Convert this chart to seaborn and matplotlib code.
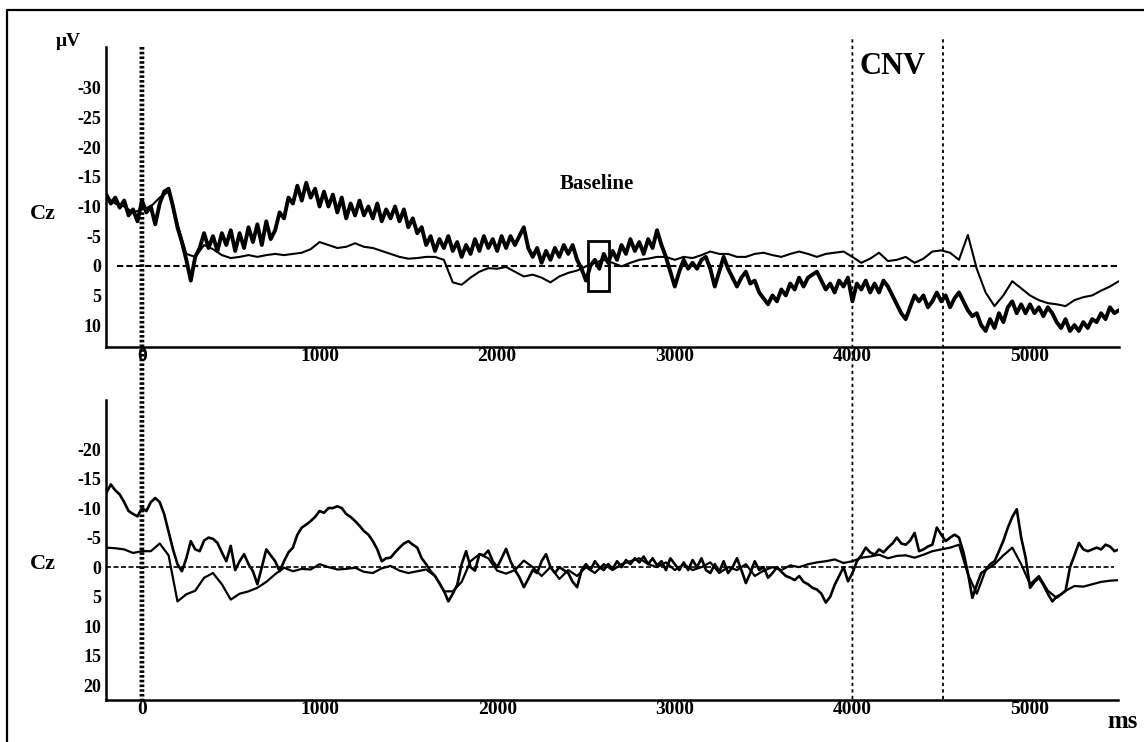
import numpy as np
import pandas as pd
import matplotlib
matplotlib.use("Agg")
import matplotlib.pyplot as plt
from matplotlib.patches import Rectangle
from matplotlib.lines import Line2D
import seaborn as sns

t_start = -200
step_fine = 25
step_coarse = 50

upper_noisy = [
    -12.0, -10.5, -11.5, -9.8, -11.0, -8.5, -9.5, -7.5,
    -11.0, -9.0, -10.0, -7.0, -10.5, -12.5, -13.0, -10.0, -6.5, -4.0, -1.0, 2.5,
    -1.5, -3.0, -5.5, -3.0, -5.0, -2.5, -5.5, -3.5, -6.0, -2.5, -5.5, -3.0,
    -6.5, -4.0, -7.0, -3.5, -7.5, -4.5, -6.0, -9.0,
    -8.0, -11.5, -10.5, -13.5, -11.0, -14.0, -11.5, -13.0,
    -10.0, -12.5, -10.0, -12.0, -9.0, -11.5, -8.0, -10.5, -8.5, -11.0, -8.5, -10.0,
    -8.0, -10.5, -7.5, -9.5, -8.0, -10.0, -7.5, -9.5, -6.5, -8.0, -5.5, -6.5,
    -3.5, -5.0, -2.5, -4.5, -3.0, -5.0, -2.5, -4.0,
    -1.5, -3.5, -2.0, -4.5, -2.5, -5.0, -3.0, -4.5,
    -2.5, -5.0, -3.0, -5.0, -3.5, -5.0, -6.5, -3.0, -1.5, -3.0, -0.5, -2.5,
    -1.0, -3.0, -1.5, -3.5, -2.0, -3.5, -1.0, 0.5,
    2.5, 0.0, -1.0, 0.5, -2.0, -0.5, -2.5, -1.0, -3.5, -2.0, -4.5, -2.5,
    -4.0, -2.0, -4.5, -3.0, -6.0, -3.5, -1.5, 1.0,
    3.5, 1.0, -1.0, 0.5, -0.5, 0.5, -1.0, -1.5, 0.5, 3.5, 1.0, -1.5,
    0.5, 2.0, 3.5, 2.0, 1.0, 3.0, 2.5, 4.5,
    5.5, 6.5, 5.0, 6.0, 4.0, 5.0, 3.0, 4.0, 2.0, 3.5, 2.0, 1.5,
    1.0, 2.5, 4.0, 3.0, 4.5, 2.5, 3.5, 2.0,
    6.0, 3.0, 4.0, 2.5, 4.5, 3.0, 4.5, 2.5, 3.5, 5.0, 6.5, 8.0,
    9.0, 7.0, 5.0, 6.0, 5.0, 7.0, 6.0, 4.5,
    6.0, 5.0, 7.0, 5.5, 4.5, 6.0, 7.5, 8.5, 8.0, 10.0, 11.0, 9.0,
    10.5, 8.0, 9.5, 7.0, 6.0, 8.0, 6.5, 8.0,
    6.5, 8.0, 7.0, 8.5, 7.0, 8.0, 9.5, 10.5, 9.0, 11.0, 10.0, 11.0,
    9.5, 10.5, 9.0, 9.5, 8.0, 9.0, 7.0, 8.0, 7.5,
]

upper_smooth = [
    -11.5, -10.5, -10.0, -9.0,
    -9.5, -10.0, -11.5, -12.5, -7.0, -2.0, -1.5, -3.5, -2.8, -1.8,
    -1.3, -1.5, -1.8, -1.5, -1.8, -2.0, -1.8, -2.0, -2.2, -2.8,
    -4.0, -3.5, -3.0, -3.2, -3.8, -3.2, -3.0, -2.5, -2.0, -1.5,
    -1.2, -1.3, -1.5, -1.5, -1.0, 2.8, 3.2, 2.0, 1.0, 0.4,
    0.5, 0.2, 1.0, 1.8, 1.5, 2.0, 2.8, 1.8, 1.2, 0.8,
    0.1, -0.5, -1.0, -0.5, 0.1, -0.5, -1.0, -1.2, -1.5, -1.5,
    -1.0, -1.5, -1.3, -1.8, -2.4, -2.0, -2.0, -1.5, -1.5, -2.0,
    -2.2, -1.8, -1.5, -2.0, -2.4, -2.0, -1.5, -2.0, -2.2, -2.4,
    -1.5, -0.5, -1.2, -2.2, -0.8, -1.0, -1.5, -0.5, -1.2, -2.4,
    -2.6, -2.2, -1.0, -5.2, 0.5, 4.5, 6.8, 5.0, 2.6, 3.8,
    5.0, 5.8, 6.3, 6.5, 6.8, 5.8, 5.3, 5.0, 4.2, 3.5,
    2.6,
]

lower_thick = [
    -12.6, -14.0, -13.0, -12.3, -11.0, -9.5, -9.0, -8.6,
    -10.0, -9.5, -11.0, -11.7, -11.0, -9.0, -6.0, -3.0, -0.5, 0.7, -1.5, -4.4,
    -3.0, -2.7, -4.5, -5.0, -4.8, -4.1, -2.5, -1.0, -3.6, 0.5, -1.0, -2.2,
    -0.5, 0.7, 2.9, 0.0, -3.0, -2.0, -1.0, 0.7,
    -1.0, -2.5, -3.3, -5.5, -6.7, -7.2, -7.8, -8.5,
    -9.5, -9.2, -10.0, -10.0, -10.3, -10.0, -9.0, -8.5, -7.8, -7.0, -6.1, -5.5,
    -4.4, -3.0, -1.0, -1.5, -1.6, -2.5, -3.3, -4.0, -4.4, -3.8, -3.3, -1.5,
    -0.5, 0.7, 1.5, 2.7, 4.0, 5.8, 4.5, 3.0,
    -0.5, -2.7, 0.0, 0.6, -2.2, -2.0, -2.8, -1.0,
    0.0, -1.5, -3.1, -1.0, 0.5, 1.7, 3.4, 2.0, 0.5, 1.0, -1.0, -2.2,
    0.0, 1.0, 0.0, 0.5, 1.0, 2.5, 3.4, 0.5,
    -0.5, 0.5, -1.0, 0.0, 0.5, -0.5, 0.3, -1.0, 0.0, -1.2, -0.5, -1.5,
    -0.8, -1.8, -0.5, -1.5, -0.3, -1.0, 0.5, -1.5,
    -0.5, 0.5, -0.8, 0.5, -1.2, 0.0, -1.5, 0.5, 1.0, -0.5, 0.8, -1.0,
    1.0, 0.0, -1.5, 0.5, 2.7, 1.0, -1.0, 0.5,
    0.0, 1.8, 1.0, 0.0, 0.8, 1.5, 1.8, 2.2, 1.5, 2.5, 2.9, 3.5,
    3.8, 4.5, 6.0, 5.0, 3.0, 1.5, 0.0, 2.4,
    1.0, -1.0, -2.0, -3.3, -2.5, -2.1, -3.0, -2.5, -3.3, -4.0, -5.0, -4.0,
    -3.8, -4.5, -5.8, -2.7, -3.0, -3.5, -3.8, -6.7,
    -5.5, -4.4, -5.0, -5.5, -5.0, -2.5, 1.0, 5.2, 3.0, 1.0, 0.5, -0.5,
    -1.0, -2.7, -4.5, -6.7, -8.5, -9.8, -5.0, -1.6,
    3.5, 2.5, 1.8, 3.0, 4.5, 5.8, 5.0, 4.6, 4.0, 0.0, -2.0, -4.1,
    -3.0, -2.7, -3.0, -3.3, -3.0, -3.8, -3.5, -2.7, -3.0,
]

lower_thin = [
    -3.3, -3.2, -3.0, -2.4,
    -2.7, -2.7, -4.0, -2.0, 5.8, 4.6, 4.0, 1.8, 1.0, 2.9,
    5.5, 4.5, 4.1, 3.5, 2.5, 1.2, 0.1, 0.7, 0.3, 0.4,
    -0.5, 0.0, 0.4, 0.3, 0.1, 0.8, 1.0, 0.2, -0.2, 0.6,
    1.0, 0.7, 0.4, 1.5, 4.1, 4.1, 2.5, -1.0, -2.2, -1.5,
    0.6, 1.1, 0.5, -1.1, 0.0, 1.5, 0.0, 2.0, 0.5, 1.5,
    0.0, 1.0, -0.5, 0.5, -0.5, -1.0, -1.5, -0.5, 0.0, -0.8,
    0.5, -0.5, 0.5, 0.0, -0.8, 1.0, 0.0, 0.5, -0.5, 1.5,
    0.6, 0.0, 0.5, -0.3, 0.0, -0.5, -0.8, -1.0, -1.3, -0.7,
    -1.0, -1.6, -1.8, -2.1, -1.5, -1.9, -2.0, -1.6, -2.1, -2.7,
    -3.0, -3.3, -3.8, 1.2, 4.5, 0.5, -0.5, -2.0, -3.3, -0.5,
    2.9, 1.5, 4.0, 5.2, 4.0, 3.2, 3.3, 2.9, 2.5, 2.3,
    2.2,
]

upper_yticks = [-30, -25, -20, -15, -10, -5, 0, 5, 10]
lower_yticks = [-20, -15, -10, -5, 0, 5, 10, 15, 20]
x_ticks = [0, 1000, 2000, 3000, 4000, 5000]
onset_ms = 0
cnv_window = [4000, 4510]
baseline_box = [2510, 2630, -4.2, 4.3]  # t0, t1, uV0, uV1

upper_ylim = (13.7, -36.9)
lower_ylim = (22.5, -28.3)


def trace_frame(values, step):
    t = t_start + step * np.arange(len(values))
    return pd.DataFrame({"ms": t, "uV": values})


sns.set_style("white")
plt.rcParams["font.family"] = ["Liberation Serif", "DejaVu Serif"]
plt.rcParams["font.weight"] = "bold"
plt.rcParams["axes.unicode_minus"] = False

W, H = 1144, 742
fig = plt.figure(figsize=(W / 100, H / 100), dpi=100)
ax1 = fig.add_axes([105.7 / W, 1 - 347 / H, (1119 - 105.7) / W, 300 / H])
ax2 = fig.add_axes([105.7 / W, 1 - 700 / H, (1118 - 105.7) / W, 300 / H])

sns.lineplot(data=trace_frame(upper_smooth, step_coarse), x="ms", y="uV", ax=ax1,
             color="black", lw=1.5, estimator=None)
sns.lineplot(data=trace_frame(upper_noisy, step_fine), x="ms", y="uV", ax=ax1,
             color="black", lw=2.8, estimator=None)
sns.lineplot(data=trace_frame(lower_thin, step_coarse), x="ms", y="uV", ax=ax2,
             color="black", lw=1.6, estimator=None)
sns.lineplot(data=trace_frame(lower_thick, step_fine), x="ms", y="uV", ax=ax2,
             color="black", lw=1.9, estimator=None)

ax1.hlines(0, -140, 5490, colors="black", linestyles=(0, (3, 1.5)), lw=1.5)
ax2.hlines(0, -200, 5470, colors="black", linestyles=(0, (3, 1.5)), lw=1.2)

ax1.set_xlim(-204, 5501)
ax2.set_xlim(-204, 5495)
ax1.set_ylim(*upper_ylim)
ax2.set_ylim(*lower_ylim)

for ax, yt in [(ax1, upper_yticks), (ax2, lower_yticks)]:
    sns.despine(ax=ax)
    for side in ["left", "bottom"]:
        ax.spines[side].set_linewidth(1.8)
        ax.spines[side].set_color("black")
    ax.set_xticks(x_ticks)
    ax.set_xticklabels([str(v) for v in x_ticks])
    ax.set_yticks(yt)
    ax.set_yticklabels([str(v) for v in yt])
    ax.tick_params(axis="x", direction="in", length=8, width=1.5, pad=1,
                   labelsize=14, colors="black")
    ax.tick_params(axis="y", length=0, pad=3, labelsize=13, colors="black")
    for lab in ax.get_xticklabels() + ax.get_yticklabels():
        lab.set_fontweight("bold")
    ax.set_xlabel("")
    ax.set_ylabel("")

ax1.add_patch(Rectangle((baseline_box[0], baseline_box[2]),
                        baseline_box[1] - baseline_box[0],
                        baseline_box[3] - baseline_box[2],
                        fill=False, edgecolor="black", lw=2))


def to_fig(ax, x, y):
    return fig.transFigure.inverted().transform(ax.transData.transform((x, y)))


# onset marker and CNV window run through both panels
def through_line(t, top_uv, **kw):
    p0 = to_fig(ax1, t, top_uv)
    p1 = to_fig(ax2, t, lower_ylim[0])
    fig.add_artist(Line2D([p0[0], p1[0]], [p0[1], p1[1]],
                          transform=fig.transFigure, color="black", **kw))


through_line(onset_ms, upper_ylim[1], lw=3.4, linestyle=(0, (0.55, 0.45)),
             dash_capstyle="butt")
for t in cnv_window:
    through_line(t, -38.2, lw=1.3, linestyle=(0, (1.8, 1.8)), dash_capstyle="butt")

txt = dict(fontweight="bold", color="black", ha="center", va="center")
fig.text(68 / W, 1 - 42 / H, "\u03bcV", fontsize=14, **txt)
fig.text(43 / W, 1 - 214 / H, "Cz", fontsize=16, **txt)
fig.text(43 / W, 1 - 564 / H, "Cz", fontsize=16, **txt)
fig.text(597 / W, 1 - 184 / H, "Baseline", fontsize=15, **txt)
fig.text(893 / W, 1 - 66 / H, "CNV", fontsize=22, **txt)
fig.text(1123 / W, 1 - 722 / H, "ms", fontsize=18, **txt)

# outer frame: only its top and left edges fall inside the image
fig.add_artist(Line2D([7 / W, 7 / W, 1.0], [0.0, 1 - 10 / H, 1 - 10 / H],
                      transform=fig.transFigure, color="black", lw=1.6))

fig.savefig("out.png", dpi=100)
